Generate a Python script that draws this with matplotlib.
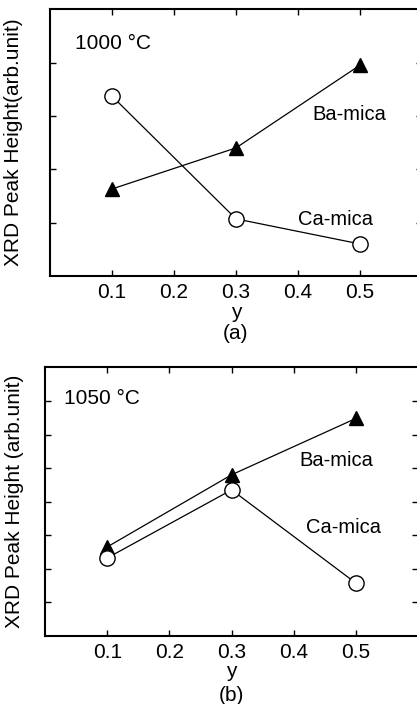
import numpy as np
import matplotlib
matplotlib.use('Agg')
from matplotlib import pyplot as plt

plt.rcParams['font.family'] = ['Liberation Sans', 'DejaVu Sans']

# composition y
y_comp = [0.1, 0.3, 0.5]

# (a) 1000 C
ba_1000 = [1.63, 2.40, 3.95]
ca_1000 = [3.37, 1.07, 0.60]

# (b) 1050 C
ba_1050 = [2.65, 4.80, 6.48]
ca_1050 = [2.32, 4.35, 1.57]

xticks = [0.1, 0.2, 0.3, 0.4, 0.5]
xticklabels = ['0.1', '0.2', '0.3', '0.4', '0.5']

fig = plt.figure(figsize=(4.17, 7.04), dpi=100)

panels = [
    dict(rect=[0.1199, 0.608, 0.892, 0.379], ba=ba_1000, ca=ca_1000, ymax=5,
         temp='1000 \u00b0C', ylabel='XRD Peak Height(arb.unit)', tag='(a)',
         ylab_x=-0.073, y_pos=-0.138, tag_pos=-0.215,
         temp_pos=(0.067, 0.873),
         ba_txt=(0.805, 0.605), ca_txt=(0.767, 0.21)),
    dict(rect=[0.1084, 0.097, 0.894, 0.381], ba=ba_1050, ca=ca_1050, ymax=8,
         temp='1050 \u00b0C', ylabel='XRD Peak Height (arb.unit)', tag='(b)',
         ylab_x=-0.057, y_pos=-0.132, tag_pos=-0.222,
         temp_pos=(0.05, 0.886),
         ba_txt=(0.782, 0.655), ca_txt=(0.80, 0.405)),
]

for p in panels:
    ax = fig.add_axes(p['rect'])
    ax.plot(y_comp, p['ba'], color='k', lw=0.9, marker='^', ms=10.5,
            mfc='k', mec='k', zorder=3)
    ax.plot(y_comp, p['ca'], color='k', lw=0.9, marker='o', ms=11,
            mfc='white', mec='k', mew=1.0, zorder=3)
    ax.set_xlim(0, 0.6)
    ax.set_ylim(0, p['ymax'])
    ax.set_xticks(xticks)
    ax.set_xticklabels(xticklabels)
    ax.set_yticks(np.arange(1, p['ymax']))
    ax.set_yticklabels([])
    ax.tick_params(direction='in', length=4, width=1.0, top=True, right=True,
                   labelsize=15, pad=5)
    for s in ax.spines.values():
        s.set_linewidth(1.5)
    ax.set_ylabel(p['ylabel'], fontsize=15)
    ax.yaxis.set_label_coords(p['ylab_x'], 0.5)
    ax.text(0.5, p['y_pos'], 'y', transform=ax.transAxes, ha='center',
            va='center', fontsize=15)
    ax.text(0.5, p['tag_pos'], p['tag'], transform=ax.transAxes, ha='center',
            va='center', fontsize=15)
    ax.text(*p['temp_pos'], p['temp'], transform=ax.transAxes, ha='left',
            va='center', fontsize=15)
    ax.text(*p['ba_txt'], 'Ba-mica', transform=ax.transAxes, ha='center',
            va='center', fontsize=14.5)
    ax.text(*p['ca_txt'], 'Ca-mica', transform=ax.transAxes, ha='center',
            va='center', fontsize=14.5)

fig.savefig('out.png', dpi=100)
